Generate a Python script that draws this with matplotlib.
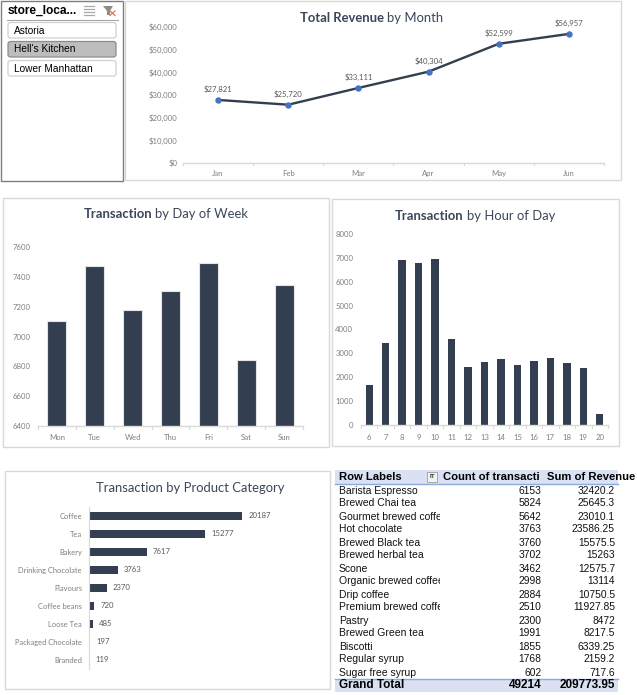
import matplotlib
matplotlib.use('Agg')
import matplotlib.pyplot as plt
from matplotlib.patches import Rectangle, FancyBboxPatch, Polygon
from matplotlib.ticker import FuncFormatter

W, H = 637, 695
DARK = '#333F50'
GREY = '#7F7F7F'
BORDER = '#D9D9D9'
TITLE = '#3A4659'

months = ['Jan', 'Feb', 'Mar', 'Apr', 'May', 'Jun']
revenue = [27821, 25720, 33111, 40304, 52599, 56957]

days = ['Mon', 'Tue', 'Wed', 'Thu', 'Fri', 'Sat', 'Sun']
day_tx = [7105, 7475, 7175, 7305, 7490, 6845, 7345]

hours = [6, 7, 8, 9, 10, 11, 12, 13, 14, 15, 16, 17, 18, 19, 20]
hour_tx = [1660, 3430, 6900, 6770, 6940, 3600, 2420, 2630, 2760, 2500, 2670, 2800, 2590, 2380, 480]

categories = ['Coffee', 'Tea', 'Bakery', 'Drinking Chocolate', 'Flavours', 'Coffee beans',
              'Loose Tea', 'Packaged Chocolate', 'Branded']
cat_tx = [20187, 15277, 7617, 3763, 2370, 720, 485, 197, 119]

stores = ["Astoria", "Hell's Kitchen", "Lower Manhattan"]

products = ['Barista Espresso', 'Brewed Chai tea', 'Gourmet brewed coffee', 'Hot chocolate',
            'Brewed Black tea', 'Brewed herbal tea', 'Scone', 'Organic brewed coffee', 'Drip coffee',
            'Premium brewed coffee', 'Pastry', 'Brewed Green tea', 'Biscotti', 'Regular syrup',
            'Sugar free syrup']
prod_count = ['6153', '5824', '5642', '3763', '3760', '3702', '3462', '2998', '2884', '2510',
              '2300', '1991', '1855', '1768', '602']
prod_rev = ['32420.2', '25645.3', '23010.1', '23586.25', '15575.5', '15263', '12575.7', '13114',
            '10750.5', '11927.85', '8472', '8217.5', '6339.25', '2159.2', '717.6']
total_count = '49214'
total_rev = '209773.95'

plt.rcParams['font.family'] = ['Lato', 'DejaVu Sans']
fig = plt.figure(figsize=(W / 100, H / 100), dpi=100)

# overlay in pixel coords for panels and the pivot table
bg = fig.add_axes([0, 0, 1, 1], zorder=0)
bg.set_xlim(0, W)
bg.set_ylim(H, 0)
bg.axis('off')


def panel(x0, y0, x1, y1, color=BORDER, lw=1.0):
    bg.add_patch(Rectangle((x0, y0), x1 - x0, y1 - y0, fc='white', ec=color, lw=lw))


def plot_axes(x0, y0, x1, y1, xpad=5, ypad=5):
    ax = fig.add_axes([x0 / W, 1 - y1 / H, (x1 - x0) / W, (y1 - y0) / H], zorder=2)
    ax.patch.set_alpha(0)
    for s in ['top', 'right', 'left']:
        ax.spines[s].set_visible(False)
    ax.spines['bottom'].set_color(BORDER)
    ax.spines['bottom'].set_linewidth(1.0)
    ax.tick_params(axis='y', length=0, labelsize=5.6, labelcolor=GREY, pad=ypad)
    ax.tick_params(axis='x', length=0, labelsize=5.6, labelcolor=GREY, pad=xpad)
    return ax


def title2(cx, y, bold, rest, size=9.4):
    # bold lead word followed by regular text, centred together
    r = fig.canvas.get_renderer()
    a = bg.text(0, y, bold, fontsize=size, fontweight='bold', color=TITLE, va='center')
    b = bg.text(0, y, rest, fontsize=size, color=TITLE, va='center')
    wa = a.get_window_extent(r).width
    wb = b.get_window_extent(r).width
    left = cx - (wa + wb + 3) / 2
    a.set_x(left)
    b.set_x(left + wa + 3)


def cat_ticks(ax, n):
    # Excel style small tick marks between the categories
    for i in range(n + 1):
        ax.plot([i - 0.5, i - 0.5], [0, -0.014], transform=ax.get_xaxis_transform(),
                color=BORDER, lw=0.8, clip_on=False)


def clipped(t, x0, y0, x1, y1):
    t.set_clip_path(Rectangle((x0, y0), x1 - x0, y1 - y0, transform=bg.transData))
    t.set_clip_on(True)


# slicer
panel(1, 1, 123, 181, color='#7F7F7F', lw=1.0)
bg.text(8, 10.5, 'store_loca...', fontsize=8.6, fontweight='bold', family='Liberation Sans', va='center', color='black')
bg.plot([7, 118], [19.5, 19.5], color='#A6A6A6', lw=0.8)
for y in [6, 9, 12, 15]:
    bg.plot([84, 94], [y, y], color='#A8A8A8', lw=0.9)
bg.add_patch(Polygon([[103, 6], [113, 6], [110, 11], [110, 15], [107, 15], [107, 11]], fc='#8C8C8C', ec='none'))
bg.plot([110, 115], [11, 15.5], color='#E8705A', lw=0.9)
bg.plot([115, 110], [11, 15.5], color='#E8705A', lw=0.9)
for i, s in enumerate(stores):
    y = 22.5 + i * 19
    sel = s == "Hell's Kitchen"
    bg.add_patch(FancyBboxPatch((8, y), 108, 15.5, boxstyle='round,pad=0,rounding_size=2.5',
                                fc='#BDBDBD' if sel else 'white', ec='#8C8C8C' if sel else '#D0D0D0', lw=0.9))
    bg.text(14, y + 8, s, fontsize=7.3, family='Liberation Sans', va='center', color='black')

# revenue by month
panel(125, 1, 621, 180)
title2(372, 17.5, 'Total Revenue', 'by Month')
ax = plot_axes(183, 27, 604, 163, xpad=5, ypad=4)
x = range(len(months))
ax.plot(x, revenue, color=DARK, lw=1.7, zorder=2)
ax.plot(x, revenue, ls='none', marker='o', ms=3.6, color='#4472C4', zorder=3)
for i, v in enumerate(revenue):
    ax.annotate(f'${v:,}', (i, v), xytext=(0, 7), textcoords='offset pixels', ha='center', va='bottom',
                fontsize=5.6, color='#595959')
ax.set_xlim(-0.5, 5.5)
ax.set_ylim(0, 60000)
ax.set_xticks(list(x), months)
ax.set_yticks(range(0, 60001, 10000))
ax.yaxis.set_major_formatter(FuncFormatter(lambda v, p: f'${v:,.0f}'))
cat_ticks(ax, len(months))

# day of week
panel(3, 198, 329, 447)
title2(166, 214.5, 'Transaction', 'by Day of Week')
ax = plot_axes(38, 247, 303, 426, xpad=5.5, ypad=5)
ax.bar(days, day_tx, width=0.5, color=DARK, edgecolor='#E4E4E4', linewidth=0.8)
ax.set_xlim(-0.5, 6.5)
ax.set_ylim(6400, 7600)
ax.set_yticks(range(6400, 7601, 200))
cat_ticks(ax, len(days))

# hour of day
panel(332, 199, 619, 446)
title2(475, 215.5, 'Transaction', 'by Hour of Day')
ax = plot_axes(361, 234, 608, 425, xpad=6.5, ypad=5.5)
ax.bar([str(h) for h in hours], hour_tx, width=0.45, color=DARK)
ax.set_xlim(-0.5, 14.5)
ax.set_ylim(0, 8000)
ax.set_yticks(range(0, 8001, 1000))
cat_ticks(ax, len(hours))

# product category
panel(5, 471, 330, 689)
bg.text(190.5, 488, 'Transaction by Product Category', fontsize=9.4, color=TITLE, ha='center', va='center')
ax = plot_axes(89, 507, 317, 669, ypad=5)
ax.spines['bottom'].set_visible(False)
ax.spines['left'].set_visible(True)
ax.spines['left'].set_color(BORDER)
ax.barh(categories, cat_tx, height=0.45, color=DARK)
ax.set_ylim(len(categories) - 0.5, -0.5)
ax.set_xlim(0, 30000)
ax.set_xticks([])
ax.tick_params(axis='y', labelsize=5.4)
for i, v in enumerate(cat_tx):
    ax.annotate(str(v), (v, i), xytext=(6, 0), textcoords='offset pixels', va='center', fontsize=5.6, color='#595959')

# pivot table
TX0, TX1 = 335, 618
HEAD = '#D9E1F2'
LINE = '#8EA9DB'
TF = 'Liberation Sans'
bg.add_patch(Rectangle((TX0, 470), TX1 - TX0, 13.5, fc=HEAD, ec='none'))
bg.plot([TX0, TX1], [483.5, 483.5], color=LINE, lw=1)
bg.text(339, 477, 'Row Labels', fontsize=8.1, fontweight='bold', family=TF, va='center', color='black')
bg.add_patch(Rectangle((427, 472), 10, 9.5, fc='#F2F2F2', ec='#A6A6A6', lw=0.7))
bg.text(432, 476.8, 'IT', fontsize=4.6, fontweight='bold', family=TF, va='center', ha='center', color='#404040')
# column is too narrow for the full header, the pivot cuts it off here
bg.text(443, 477, 'Count of transacti', fontsize=8.1, fontweight='bold', family=TF, va='center', color='black')
bg.text(547, 477, 'Sum of Revenue', fontsize=8.1, fontweight='bold', family=TF, va='center', color='black')
for i, name in enumerate(products):
    y = 490.5 + i * 13
    t = bg.text(339, y, name, fontsize=7.5, family=TF, va='center', color='#111111')
    clipped(t, 335, y - 7, 440, y + 7)
    bg.text(541.5, y, prod_count[i], fontsize=7.4, family=TF, va='center', ha='right', color='#111111')
    bg.text(615, y, prod_rev[i], fontsize=7.4, family=TF, va='center', ha='right', color='#111111')
bg.add_patch(Rectangle((TX0, 678.5), TX1 - TX0, 13.5, fc=HEAD, ec='none'))
bg.plot([TX0, TX1], [678.5, 678.5], color=LINE, lw=1)
bg.text(339, 685.5, 'Grand Total', fontsize=8.5, fontweight='bold', family=TF, va='center', color='black')
bg.text(541.5, 685.5, total_count, fontsize=8.5, fontweight='bold', family=TF, va='center', ha='right', color='black')
bg.text(615, 685.5, total_rev, fontsize=8.5, fontweight='bold', family=TF, va='center', ha='right', color='black')

fig.savefig('out.png', dpi=100)
